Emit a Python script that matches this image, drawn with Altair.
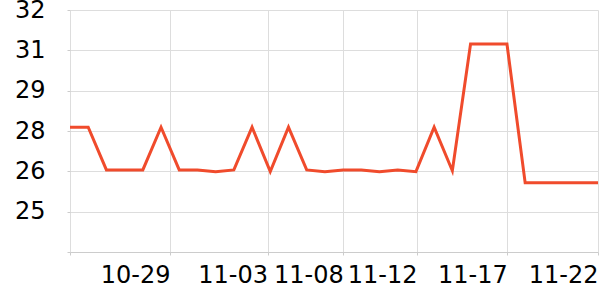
import altair as alt
import pandas as pd

# point index along x (one per observation)
idx = list(range(30))
values = [27.93, 27.93, 26.45, 26.45, 26.45, 27.93, 26.45, 26.45, 26.39, 26.45,
          27.93, 26.39, 27.93, 26.45, 26.39, 26.45, 26.45, 26.39, 26.45, 26.39,
          27.93, 26.42, 30.82, 30.82, 30.82, 26.0, 26.0, 26.0, 26.0, 26.0]

# x-axis ticks (in index units) and their labels
tick_pos = [0, 5.49, 10.85, 15.01, 19.06, 24.02, 29]
tick_labels = ["", "10-29", "11-03", "11-08", "11-12", "11-17", "11-22"]

# y-axis ticks
y_ticks = [23.6, 25.0, 26.4, 27.8, 29.2, 30.6, 32.0]

df = pd.DataFrame({"i": idx, "v": values})

label_expr = "[" + ",".join("'%s'" % s for s in tick_labels) + "][indexof([" + \
    ",".join(str(p) for p in tick_pos) + "], datum.value)]"

chart = alt.Chart(df).mark_line(color="#f04b2c", strokeWidth=3).encode(
    x=alt.X("i:Q", scale=alt.Scale(domain=[0, 29], nice=False, zero=False),
            axis=alt.Axis(values=tick_pos, labelExpr=label_expr, title=None,
                          labelAlign="right", labelPadding=8, tickSize=3,
                          grid=True, labelFlush=False, labelOverlap=False)),
    y=alt.Y("v:Q", scale=alt.Scale(domain=[23.6, 32], nice=False, zero=False),
            axis=alt.Axis(values=y_ticks, title=None, tickSize=3, labelPadding=22,
                          labelExpr="datum.value < 24 ? '' : format(datum.value, '.0f')",
                          grid=True, domain=False, labelFlush=False, labelOverlap=False)),
).properties(
    width=528, height=242,
    autosize=alt.AutoSizeParams(type="none"),
    padding={"left": 70, "top": 10, "right": 2, "bottom": 48},
).configure_view(stroke=None).configure_axis(
    labelFont="DejaVu Sans", labelFontSize=24, labelColor="#000000",
    gridColor="#dddddd", domainColor="#cccccc", tickColor="#cccccc",
)

chart.save("out.html", embed_options={"renderer": "svg", "actions": False})
